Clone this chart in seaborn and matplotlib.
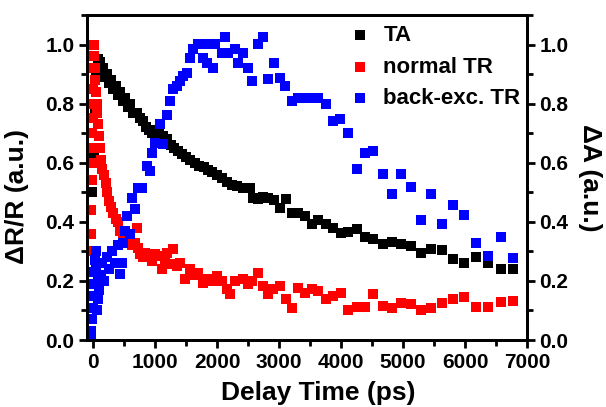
import matplotlib
matplotlib.use("Agg")
import matplotlib.pyplot as plt
from matplotlib.ticker import MultipleLocator
import seaborn as sns
import pandas as pd

# ---------------- data ----------------
ta_t = [-20, 10, 30, 50, 70, 90, 110, 130, 160, 190, 220, 250, 280, 320, 360, 400, 440,
        480, 520, 560, 600, 650, 700, 750, 800, 850, 900, 950, 1000, 1060, 1120, 1190,
        1250, 1300, 1370, 1440, 1500, 1570, 1640, 1710, 1780, 1850, 1920, 2000, 2080,
        2160, 2240, 2320, 2420, 2532, 2581, 2661, 2742, 2823, 2920, 3016, 3113, 3210,
        3307, 3420, 3532, 3629, 3758, 3871, 4000, 4113, 4258, 4387, 4516, 4678, 4823,
        4968, 5129, 5290, 5452, 5629, 5807, 5984, 6178, 6371, 6581, 6774]
ta_v = [0.50, 0.62, 0.78, 0.90, 0.95, 0.93, 0.94, 0.91, 0.92, 0.89, 0.90, 0.87, 0.88, 0.85,
        0.86, 0.83, 0.84, 0.81, 0.82, 0.79, 0.80, 0.77, 0.77, 0.75, 0.74, 0.72, 0.71, 0.70,
        0.70, 0.71, 0.69, 0.68, 0.66, 0.65, 0.64, 0.63, 0.62, 0.61, 0.60, 0.59, 0.585,
        0.575, 0.57, 0.56, 0.55, 0.535, 0.525, 0.52, 0.515, 0.515, 0.48, 0.478, 0.485,
        0.481, 0.475, 0.447, 0.478, 0.43, 0.43, 0.42, 0.393, 0.407, 0.393, 0.38, 0.363,
        0.366, 0.376, 0.349, 0.342, 0.325, 0.332, 0.325, 0.319, 0.295, 0.308, 0.305,
        0.275, 0.261, 0.281, 0.261, 0.241, 0.241]

tr_t = [-40, -35, -30, -25, -20, -16, -12, -8, -4, 0, 3, 6, 15, 25, 35, 45, 55, 65, 80,
        95, 110, 130, 150, 170, 200, 230, 260, 290, 320, 360, 400, 440, 480, 520, 570,
        620, 670, 710, 726, 760, 800, 839, 900, 952, 1000, 1048, 1113, 1160, 1194, 1242,
        1290, 1350, 1403, 1484, 1565, 1630, 1694, 1774, 1855, 1930, 2000, 2081, 2161,
        2210, 2290, 2420, 2500, 2565, 2661, 2742, 2823, 2904, 3016, 3113, 3210, 3307,
        3420, 3532, 3629, 3758, 3871, 4000, 4113, 4258, 4387, 4516, 4678, 4823, 4968,
        5129, 5290, 5452, 5629, 5807, 5984, 6178, 6371, 6581, 6774]
tr_v = [0.30, 0.36, 0.44, 0.54, 0.60, 0.65, 0.70, 0.75, 0.80, 0.85, 0.92, 1.00, 0.96, 0.92,
        0.88, 0.84, 0.80, 0.77, 0.73, 0.69, 0.65, 0.61, 0.58, 0.56, 0.53, 0.50, 0.47, 0.45,
        0.43, 0.41, 0.40, 0.37, 0.35, 0.36, 0.34, 0.32, 0.33, 0.38, 0.31, 0.29, 0.28,
        0.295, 0.28, 0.268, 0.29, 0.285, 0.241, 0.27, 0.295, 0.258, 0.308, 0.25, 0.261,
        0.207, 0.241, 0.22, 0.227, 0.193, 0.207, 0.20, 0.217, 0.20, 0.173, 0.156, 0.20,
        0.207, 0.19, 0.20, 0.227, 0.183, 0.156, 0.173, 0.183, 0.139, 0.108, 0.176, 0.159,
        0.173, 0.166, 0.139, 0.149, 0.159, 0.102, 0.112, 0.112, 0.156, 0.115, 0.108,
        0.125, 0.122, 0.102, 0.108, 0.125, 0.139, 0.146, 0.112, 0.112, 0.129, 0.132]

bk_t = [-40, -30, -20, -10, 0, 10, 20, 30, 40, 50, 60, 70, 80, 100, 120, 150, 180, 220,
        260, 300, 350, 400, 435, 460, 484, 520, 548, 600, 629, 677, 726, 790, 871, 919,
        952, 1000, 1081, 1129, 1194, 1242, 1290, 1355, 1403, 1452, 1516, 1565, 1613,
        1694, 1774, 1839, 1855, 1936, 1968, 2081, 2129, 2178, 2290, 2339, 2420, 2500,
        2565, 2661, 2742, 2823, 2920, 3016, 3097, 3210, 3307, 3420, 3532, 3629, 3758,
        3871, 3984, 4113, 4258, 4387, 4516, 4678, 4823, 4968, 5129, 5290, 5452, 5629,
        5807, 5984, 6178, 6371, 6581, 6774]
bk_v = [0.00, 0.03, 0.07, 0.11, 0.15, 0.19, 0.23, 0.27, 0.30, 0.25, 0.10, 0.14, 0.20,
        0.17, 0.22, 0.26, 0.20, 0.28, 0.24, 0.30, 0.26, 0.32, 0.224, 0.26, 0.33, 0.37,
        0.42, 0.36, 0.48, 0.444, 0.515, 0.515, 0.59, 0.573, 0.634, 0.668, 0.732, 0.664,
        0.76, 0.81, 0.85, 0.86, 0.878, 0.895, 0.905, 0.953, 0.986, 1.003, 0.953, 0.939,
        1.003, 0.922, 1.003, 0.97, 1.024, 0.97, 0.986, 0.939, 0.97, 0.922, 0.878, 1.003,
        1.024, 0.885, 0.936, 0.888, 0.861, 0.81, 0.82, 0.82, 0.82, 0.82, 0.80, 0.742,
        0.749, 0.70, 0.58, 0.634, 0.64, 0.563, 0.495, 0.563, 0.519, 0.407, 0.495, 0.393,
        0.458, 0.424, 0.329, 0.285, 0.349, 0.278]

series_names = ["TA", "normal TR", "back-exc. TR"]
series_colors = ["#000000", "#FF0000", "#0000FF"]
x_ticks = [0, 1000, 2000, 3000, 4000, 5000, 6000, 7000]
y_ticks = [0.0, 0.2, 0.4, 0.6, 0.8, 1.0]

# ---------------- style ----------------
sns.set_theme(style="ticks")
plt.rcParams["font.family"] = ["Liberation Sans", "DejaVu Sans"]
plt.rcParams["font.weight"] = "bold"
plt.rcParams["axes.labelweight"] = "bold"
plt.rcParams["text.color"] = "black"
plt.rcParams["axes.labelcolor"] = "black"
plt.rcParams["xtick.color"] = "black"
plt.rcParams["ytick.color"] = "black"

fig = plt.figure(figsize=(6.06, 4.07), dpi=100)
ax = fig.add_axes([87 / 606, 1 - 340 / 407, 440 / 606, 325 / 407])

frames = [pd.DataFrame({"t": ta_t, "v": ta_v}),
          pd.DataFrame({"t": tr_t, "v": tr_v}),
          pd.DataFrame({"t": bk_t, "v": bk_v})]
for df, name, col in zip(frames, series_names, series_colors):
    sns.scatterplot(data=df, x="t", y="v", ax=ax, marker="s", s=52, color=col,
                    linewidth=0, label=name, zorder=3)

ax.set_xlim(-100, 7000)
ax.set_ylim(0, 1.1)
ax.set_xticks(x_ticks)
ax.set_yticks(y_ticks)
ax.xaxis.set_minor_locator(MultipleLocator(500))
ax.yaxis.set_minor_locator(MultipleLocator(0.1))
ax.set_xticklabels([str(v) for v in x_ticks])
ax.set_yticklabels([f"{v:.1f}" for v in y_ticks])

ax2 = ax.twinx()
ax2.set_ylim(0, 1.1)
ax2.set_yticks(y_ticks)
ax2.yaxis.set_minor_locator(MultipleLocator(0.1))
ax2.set_yticklabels([f"{v:.1f}" for v in y_ticks])

for a in (ax, ax2):
    for sp in a.spines.values():
        sp.set_linewidth(2.0)
        sp.set_color("black")
        sp.set_visible(True)
    a.tick_params(which="major", direction="out", length=6, width=2, labelsize=15,
                  pad=3, colors="black", labelcolor="black")
    a.tick_params(which="minor", direction="out", length=4, width=2, colors="black")
    for lbl in a.get_xticklabels() + a.get_yticklabels():
        lbl.set_fontweight("bold")
        lbl.set_color("black")
ax.tick_params(top=False, right=False, which="both")
ax2.tick_params(left=False, which="both")

ax.set_xlabel("Delay Time (ps)", fontsize=19, fontweight="bold", color="black")
ax.set_ylabel("ΔR/R (a.u.)", fontsize=19, fontweight="bold", color="black")
ax2.set_ylabel("ΔA (a.u.)", fontsize=19, fontweight="bold", rotation=270,
               va="bottom", color="black")
ax.xaxis.set_label_coords(0.525, -0.125)
ax.yaxis.set_label_coords(-0.132, 0.44)
ax2.yaxis.set_label_coords(1.115, 0.5)

leg = ax.legend(loc="upper left", bbox_to_anchor=((349 - 87) / 440, (340 - 25) / 325),
                frameon=False, fontsize=16, handlelength=1.0, handletextpad=0.55,
                borderaxespad=0, borderpad=0, labelspacing=0.48, markerscale=1.0)
for t in leg.get_texts():
    t.set_fontweight("bold")
    t.set_color("black")

fig.savefig("out.png", dpi=100)
